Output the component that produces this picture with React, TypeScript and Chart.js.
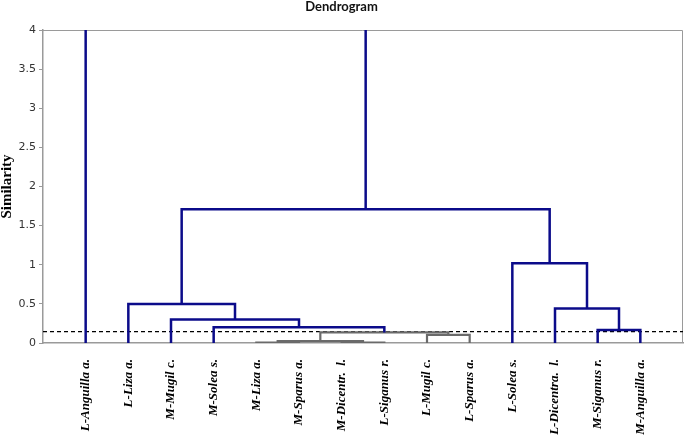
import React, { useEffect, useRef } from 'react';
import { Chart, registerables } from 'chart.js';
Chart.register(...registerables);

// Leaves in display order
const leaves = [
  'L-Anguilla a.', 'L-Liza a.', 'M-Mugil c.', 'M-Solea s.', 'M-Liza a.', 'M-Sparus a.',
  'M-Dicentr.  l.', 'L-Siganus r.', 'L-Mugil c.', 'L-Sparus a.', 'L-Solea s.',
  'L-Dicentra.  l.', 'M-Siganus r.', 'M-Anguilla a.',
];
// Linkage (cluster ids: 0..13 leaves, 14+ merges in order)
const mergeLeft = [4, 6, 14, 8, 16, 3, 2, 1, 12, 11, 10, 21, 0];
const mergeRight = [5, 7, 15, 9, 17, 18, 19, 20, 13, 22, 23, 24, 25];
const mergeHeight = [0.005, 0.005, 0.025, 0.105, 0.135, 0.2, 0.3, 0.5, 0.165, 0.44, 1.02, 1.71, 4.3];
const threshold = 0.145;
const yMin = 0;
const yMax = 4;
const yStep = 0.5;

const NAVY = '#0b0b8a';
const GRAY = '#6a6a6a';
const AXIS = '#9a9a9a';

function buildDatasets() {
  const pos: number[] = leaves.map((_, i) => i + 1);
  const hgt: number[] = leaves.map(() => 0);
  const blue: any[] = [];
  const gray: any[] = [];
  mergeLeft.forEach((l, k) => {
    const r = mergeRight[k];
    const h = mergeHeight[k];
    const pts = [
      { x: pos[l], y: hgt[l] },
      { x: pos[l], y: h },
      { x: pos[r], y: h },
      { x: pos[r], y: hgt[r] },
    ];
    const isBlue = h >= threshold;
    const ds = {
      data: pts,
      showLine: true,
      borderColor: isBlue ? NAVY : GRAY,
      borderWidth: isBlue ? 2.5 : 2.2,
      pointRadius: 0,
      tension: 0,
      fill: false,
      clip: 0,
    };
    (isBlue ? blue : gray).push(ds);
    pos.push((pos[l] + pos[r]) / 2);
    hgt.push(h);
  });
  const thr = {
    data: [{ x: 0, y: threshold }, { x: leaves.length + 1, y: threshold }],
    showLine: true,
    borderColor: '#000',
    borderWidth: 1.4,
    borderDash: [4, 3],
    pointRadius: 0,
    fill: false,
    clip: 0,
  };
  return [...blue, ...gray, thr];
}

const framePlugin = {
  id: 'frame',
  beforeDatasetsDraw(chart: any) {
    const { ctx, chartArea: a } = chart;
    ctx.save();
    ctx.strokeStyle = AXIS;
    ctx.lineWidth = 1;
    ctx.beginPath();
    ctx.moveTo(a.left, a.top + 0.5);
    ctx.lineTo(a.right - 0.5, a.top + 0.5);
    ctx.lineTo(a.right - 0.5, a.bottom);
    ctx.stroke();
    ctx.restore();
  },
};

export default function App() {
  const ref = useRef<HTMLCanvasElement>(null);
  useEffect(() => {
    document.body.style.margin = '0';
    const chart = new Chart(ref.current as HTMLCanvasElement, {
      type: 'scatter',
      data: { datasets: buildDatasets() },
      plugins: [framePlugin],
      options: {
        animation: false,
        responsive: true,
        maintainAspectRatio: false,
        layout: { padding: { left: 0, right: 2, top: 0, bottom: 0 } },
        plugins: {
          legend: { display: false },
          tooltip: { enabled: false },
          title: {
            display: true,
            text: 'Dendrogram',
            color: '#111',
            font: { family: 'Lato, "Open Sans", sans-serif', size: 13, weight: 'bold', lineHeight: 1.1 },
            padding: { top: 0, bottom: 15.7 },
          },
        },
        scales: {
          x: {
            type: 'linear',
            min: 0,
            max: leaves.length + 1,
            afterFit: (s: any) => { s.height = 94; s.paddingLeft = 0; s.paddingRight = 0; },
            grid: { display: false },
            border: { display: true, color: AXIS, width: 1.5 },
            ticks: {
              stepSize: 1,
              autoSkip: false,
              maxRotation: 90,
              minRotation: 90,
              padding: 8,
              color: '#000',
              font: { family: '"Liberation Serif", "Times New Roman", serif', size: 13, style: 'italic', weight: 'bold' },
              callback: (v: any) => leaves[Number(v) - 1] ?? '',
            },
          },
          y: {
            type: 'linear',
            min: yMin,
            max: yMax,
            afterFit: (s: any) => { s.width = 43; },
            grid: { display: true, drawOnChartArea: false, drawTicks: true, tickLength: 4, color: AXIS },
            border: { display: true, color: AXIS, width: 1.5 },
            title: {
              display: true,
              text: 'Similarity',
              color: '#000',
              font: { family: '"Liberation Serif", "Times New Roman", serif', size: 15, weight: 'bold', lineHeight: 1 },
              padding: { top: 0, bottom: 0 },
            },
            ticks: {
              stepSize: yStep,
              padding: 3,
              color: '#333',
              font: { family: '"DejaVu Sans", sans-serif', size: 11 },
              callback: (v: any) => String(v),
            },
          },
        },
      } as any,
    });
    return () => chart.destroy();
  }, []);
  return (
    <div style={{ width: 685, height: 437, position: 'relative' }}>
      <canvas ref={ref} />
    </div>
  );
}
